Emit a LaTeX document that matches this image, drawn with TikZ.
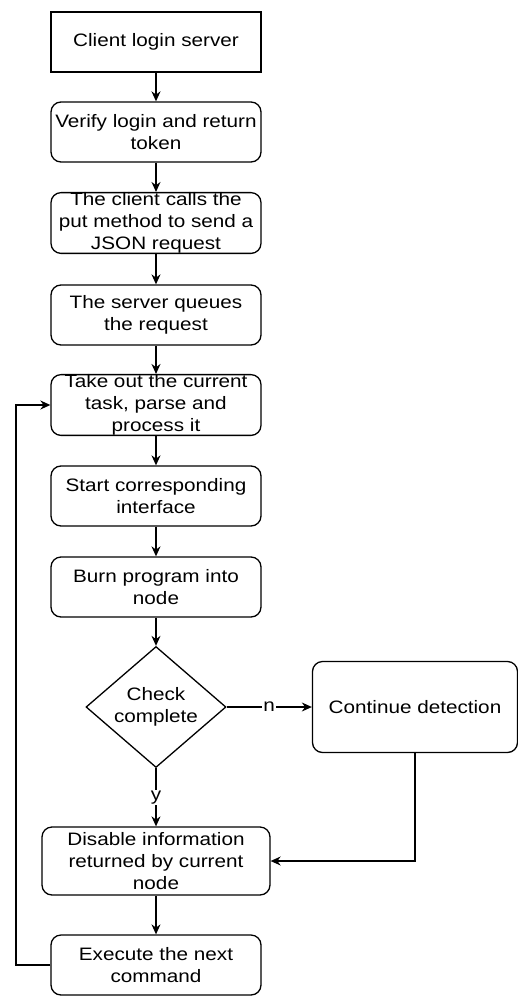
\documentclass[tikz,border=0pt]{standalone}
\usepackage{fontspec}
\setmainfont[FakeStretch=1.15]{Liberation Sans}
\usetikzlibrary{positioning, arrows.meta, shapes.geometric}

\begin{document}
\begin{tikzpicture}[x=1pt,y=-1pt,line width=1.3pt,
  font=\fontsize{18}{22}\selectfont,
  stepbox/.style={draw,rounded corners=10pt,align=center,inner sep=0pt,minimum width=210pt,minimum height=60pt},
  check/.style={draw,diamond,aspect=1.157,align=center,inner sep=0pt,minimum width=140pt,minimum height=121pt},
  arr/.style={-{Stealth[length=10pt,width=9pt]}}]
\useasboundingbox (0,0) rectangle (518,998);

\node[stepbox,rounded corners=0pt] (login) at (156,42) {Client login server};
\node[stepbox] (verify) at (156,132) {Verify login and return\\token};
\node[stepbox] (put) at (156,223) {The client calls the\\put method to send a\\JSON request};
\node[stepbox] (queue) at (156,315) {The server queues\\the request};
\node[stepbox] (take) at (156,405) {Take out the current\\task, parse and\\process it};
\node[stepbox] (start) at (156,496) {Start corresponding\\interface};
\node[stepbox] (burn) at (156,587) {Burn program into\\node};
\node[check] (chk) at (156,707) {Check\\complete};
\node[stepbox,minimum width=205pt,minimum height=91pt] (cont) at (415,707) {Continue detection};
\node[stepbox,minimum width=228pt,minimum height=68pt] (dis) at (156,861) {Disable information\\returned by current\\node};
\node[stepbox] (exec) at (156,965) {Execute the next\\command};
\coordinate (loop) at (16,965);

\draw[arr] (login) -- (verify);
\draw[arr] (verify) -- (put);
\draw[arr] (put) -- (queue);
\draw[arr] (queue) -- (take);
\draw[arr] (take) -- (start);
\draw[arr] (start) -- (burn);
\draw[arr] (burn) -- (chk);
\draw[arr] (chk) -- (cont) node[midway,fill=white,inner sep=1pt] {n};
\draw[arr] (chk) -- (dis) node[midway,fill=white,inner sep=1pt] {y};
\draw[arr] (cont.south) |- (dis.east);
\draw[arr] (dis) -- (exec);
\draw[arr] (exec.west) -- (loop) |- (take.west);
\end{tikzpicture}
\end{document}
